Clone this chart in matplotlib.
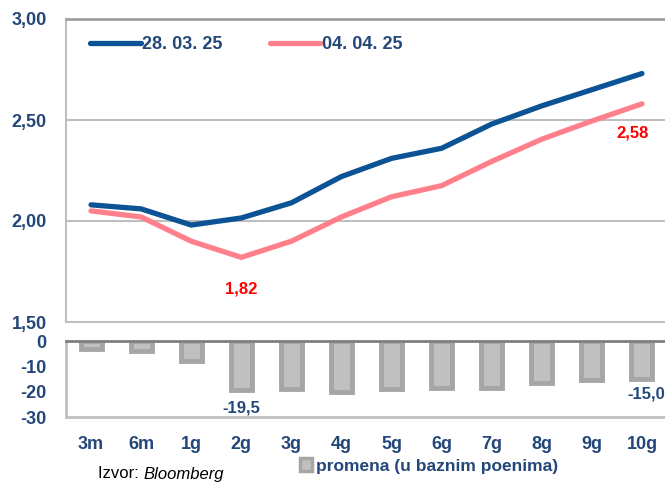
import matplotlib
matplotlib.use("Agg")
import matplotlib.pyplot as plt
from matplotlib.patches import Patch
import numpy as np

categories = ["3m", "6m", "1g", "2g", "3g", "4g", "5g", "6g", "7g", "8g", "9g", "10g"]
series_0328 = [2.08, 2.06, 1.98, 2.015, 2.09, 2.22, 2.31, 2.36, 2.48, 2.57, 2.65, 2.73]
series_0404 = [2.05, 2.02, 1.90, 1.82, 1.90, 2.02, 2.12, 2.175, 2.295, 2.405, 2.495, 2.58]
change_bp = [-3.0, -4.0, -8.0, -19.5, -19.0, -20.0, -19.0, -18.5, -18.5, -16.5, -15.5, -15.0]
top_ticks = [1.5, 2.0, 2.5, 3.0]
top_ticklabels = ["1,50", "2,00", "2,50", "3,00"]
bot_ticks = [-30, -20, -10, 0]
bot_ticklabels = ["-30", "-20", "-10", "0"]

TXT = "#24477a"
PINK = "#ff7f8a"
FAM = ["Liberation Sans Narrow", "Liberation Sans", "DejaVu Sans"]
plt.rcParams["font.family"] = FAM
plt.rcParams["font.weight"] = "bold"

W, H = 665, 482
fig = plt.figure(figsize=(W / 100, H / 100), dpi=100)

x0, x1 = 66, 667
ax = fig.add_axes([x0 / W, 1 - 322 / H, (x1 - x0) / W, (322 - 19) / H])
axb = fig.add_axes([x0 / W, 1 - 417 / H, (x1 - x0) / W, (417 - 341) / H])

x = np.arange(len(categories))

ax.plot(x, series_0328, color="#0b5394", lw=3.8, solid_capstyle="round", label="28. 03. 25", zorder=3)
ax.plot(x, series_0404, color=PINK, lw=3.8, solid_capstyle="round", label="04. 04. 25", zorder=3)
ax.set_xlim(-0.5, len(categories) - 0.5)
ax.set_ylim(1.5, 3.0)
ax.set_yticks(top_ticks)
ax.set_yticklabels(top_ticklabels)
ax.set_xticks([])
for t in [2.0, 2.5]:
    ax.axhline(t, color="#bfbfbf", lw=1.5, zorder=1)
for s in ["left", "bottom"]:
    ax.spines[s].set_color("#bfbfbf")
    ax.spines[s].set_linewidth(1.5)
ax.spines["top"].set_color("#a0a0a0")
ax.spines["top"].set_linewidth(2)
ax.spines["right"].set_visible(False)
ax.tick_params(axis="y", length=0, pad=14, labelsize=13, labelcolor=TXT)
for lab in ax.get_yticklabels():
    lab.set_fontweight("bold")

leg = ax.legend(loc="upper left", ncol=2, frameon=False, bbox_to_anchor=(0.013, 0.996),
                handlelength=2.8, handletextpad=0.1, columnspacing=2.6,
                prop={"size": 13, "weight": "bold", "family": FAM})
for t in leg.get_texts():
    t.set_color(TXT)

ax.annotate("1,82", (x[3], series_0404[3]), xytext=(0, -23), textcoords="offset points",
            ha="center", va="center", color="#ff0000", fontsize=12, fontweight="bold")
ax.annotate("2,58", (x[11], series_0404[11]), xytext=(-7, -21), textcoords="offset points",
            ha="center", va="center", color="#ff0000", fontsize=12, fontweight="bold")

axb.bar(x, change_bp, width=0.42, color="#c0c0c0", edgecolor="#a6a6a6", linewidth=3.5,
        zorder=2, label="promena (u baznim poenima)")
axb.set_xlim(-0.5, len(categories) - 0.5)
axb.set_ylim(-30, 0)
axb.set_yticks(bot_ticks)
axb.set_yticklabels(bot_ticklabels)
axb.set_xticks(x)
axb.set_xticklabels(categories)
axb.spines["top"].set_color("#7f7f7f")
axb.spines["top"].set_linewidth(2)
axb.spines["top"].set_zorder(5)
for s in ["left", "bottom"]:
    axb.spines[s].set_color("#bfbfbf")
    axb.spines[s].set_linewidth(2)
axb.spines["right"].set_visible(False)
axb.tick_params(axis="y", length=0, pad=14, labelsize=13, labelcolor=TXT)
axb.tick_params(axis="x", length=0, pad=14, labelsize=13, labelcolor=TXT)
for lab in axb.get_yticklabels() + axb.get_xticklabels():
    lab.set_fontweight("bold")

axb.annotate("-19,5", (x[3], change_bp[3]), xytext=(0, -13), textcoords="offset points",
             ha="center", va="center", color=TXT, fontsize=12, fontweight="bold")
axb.annotate("-15,0", (x[11], change_bp[11]), xytext=(3, -11), textcoords="offset points",
             ha="center", va="center", color=TXT, fontsize=12, fontweight="bold")

handles = [Patch(facecolor="#c0c0c0", edgecolor="#a6a6a6", linewidth=2.5)]
fl = fig.legend(handles, ["promena (u baznim poenima)"], loc="center",
                bbox_to_anchor=(429 / W, 1 - 466 / H), frameon=False,
                handlelength=0.7, handleheight=0.7, handletextpad=0.2,
                prop={"size": 12.5, "weight": "bold", "family": FAM})
for t in fl.get_texts():
    t.set_color(TXT)

src = fig.text(98 / W, 1 - 474 / H, "Izvor: ", fontsize=12, color="black", fontweight="normal",
               va="center", ha="left", family=["Liberation Sans", "DejaVu Sans"])
fig.canvas.draw()
fig.text(0, 0, "Bloomberg", fontsize=12, color="black", fontweight="normal", style="italic",
         va="center", ha="left", family=["Liberation Sans", "DejaVu Sans"],
         transform=matplotlib.transforms.offset_copy(
             fig.transFigure, fig=fig,
             x=src.get_window_extent().x1 / fig.dpi, y=(1 - 474 / H) * H / fig.dpi, units="inches"))

fig.savefig("out.png", dpi=100)
